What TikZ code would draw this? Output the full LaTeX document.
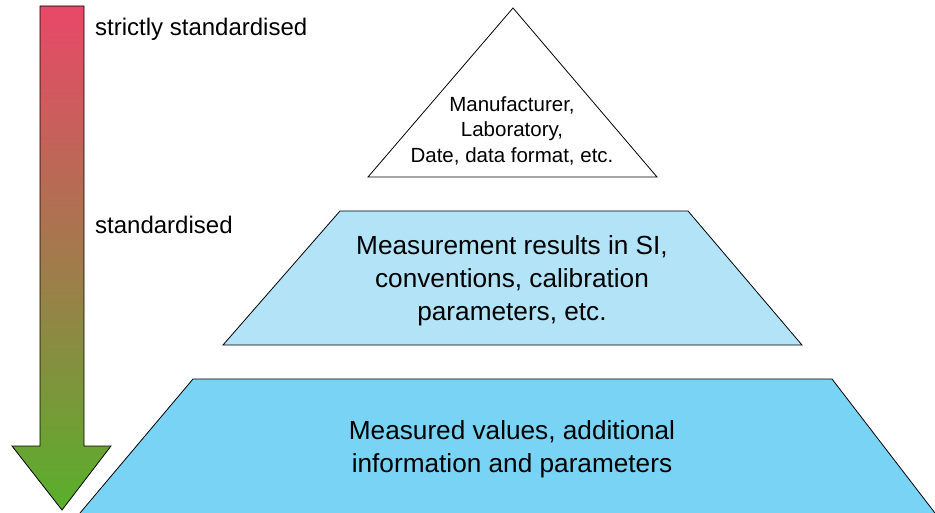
\documentclass[tikz,border=0pt]{standalone}
\usepackage{fontspec}
\setmainfont{Liberation Sans}
\definecolor{arrtop}{HTML}{E94868}
\definecolor{arrmid}{HTML}{A27A4C}
\definecolor{arrbot}{HTML}{58B02A}
\definecolor{midblue}{HTML}{B2E3F7}
\definecolor{lowblue}{HTML}{79D3F5}
\tikzset{
  layer/.style={draw=black, line width=0.8pt, line join=miter},
  bigtext/.style={align=center, font=\fontsize{26.2}{33}\selectfont, inner sep=0pt},
  smalltext/.style={align=center, font=\fontsize{20.5}{25.5}\selectfont, inner sep=0pt},
  sidetext/.style={anchor=west, font=\fontsize{24}{28}\selectfont, inner sep=0pt}
}
\begin{document}
\begin{tikzpicture}[x=1pt, y=-1pt]
\useasboundingbox (0,0) rectangle (935,513);
% gradient arrow
\coordinate (a1) at (40,6);
\coordinate (a2) at (84,6);
\coordinate (a3) at (84,446);
\coordinate (a4) at (111,446);
\coordinate (a5) at (62,510);
\coordinate (a6) at (12,446);
\coordinate (a7) at (40,446);
\shade[layer, top color=arrtop, bottom color=arrbot, middle color=arrmid]
  (a1) -- (a2) -- (a3) -- (a4) -- (a5) -- (a6) -- (a7) -- cycle;
% top triangle
\coordinate (t1) at (513,8);
\coordinate (t2) at (657,177);
\coordinate (t3) at (368,177);
\draw[layer, fill=white] (t1) -- (t2) -- (t3) -- cycle;
% middle trapezoid
\coordinate (m1) at (340,211);
\coordinate (m2) at (688,211);
\coordinate (m3) at (802,345);
\coordinate (m4) at (223,345);
\draw[layer, fill=midblue] (m1) -- (m2) -- (m3) -- (m4) -- cycle;
% bottom trapezoid
\coordinate (b1) at (193,379);
\coordinate (b2) at (832,379);
\coordinate (b3) at (935,513);
\coordinate (b4) at (80,513);
\fill[lowblue] (b4) -- (b1) -- (b2) -- (b3) -- cycle;
\draw[layer] (b4) -- (b1) -- (b2) -- (b3);
% texts
\node[smalltext] (ttext) at (512,130.5) {Manufacturer,\\Laboratory,\\Date, data format, etc.};
\node[bigtext] (mtext) at (512,281) {Measurement results in SI,\\conventions, calibration\\parameters, etc.};
\node[bigtext] (btext) at (512,449) {Measured values, additional\\information and parameters};
\node[sidetext] (s1) at (95,29.5) {strictly standardised};
\node[sidetext] (s2) at (95,224.5) {standardised};
\end{tikzpicture}
\end{document}
